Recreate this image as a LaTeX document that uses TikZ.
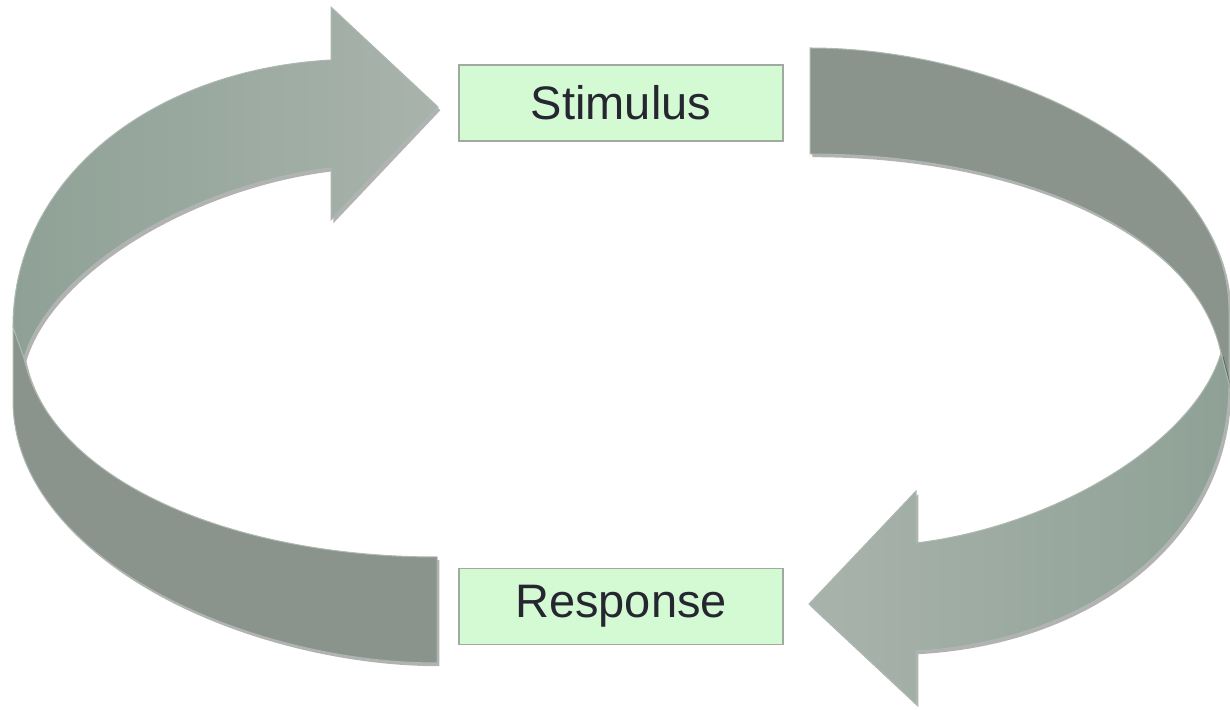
\documentclass[tikz,border=0pt]{standalone}
\usepackage{fontspec}
\setmainfont{Liberation Sans}
\usepackage{tikz}
\usetikzlibrary{positioning}
\definecolor{boxfill}{RGB}{212,250,212}
\definecolor{boxline}{RGB}{160,170,160}
\definecolor{textcol}{RGB}{38,38,48}
\definecolor{bandcol}{RGB}{138,147,140}
\definecolor{bandedge}{RGB}{172,184,176}
\definecolor{facedark}{RGB}{143,161,150}
\definecolor{facelight}{RGB}{168,179,172}
\tikzset{
	label box/.style={rectangle,draw=boxline,fill=boxfill,line width=0.75pt,minimum width=162pt,minimum height=38pt,font=\fontsize{23.5}{28}\selectfont,text=textcol},
	drop/.style={preaction={fill=black,opacity=0.3,transform canvas={xshift=1.2pt,yshift=-1.6pt}}},
	band/.style={drop,fill=bandcol,draw=bandedge,line width=0.5pt},
	face/.style={drop,draw=bandedge,line width=0.5pt}
}

\begin{document}
\begin{tikzpicture}[x=0.5pt,y=-0.5pt]
  \useasboundingbox (0,0) rectangle (1230,710);
  % left ribbon, up to the stimulus
  \draw[band] (13,327) -- (13,400) .. controls (13,560) and (250,663) .. (437,663) -- (437,557) .. controls (230,557) and (50,480) .. (24,358) -- cycle;
  \draw[face,left color=facedark,right color=facelight] (331,60) .. controls (150,70) and (13,180) .. (13,327) -- (24,358) .. controls (50,270) and (190,185) .. (331,168) -- (331,220) -- (438,107) -- (331,7) -- cycle;
  % right ribbon, down to the response
  \draw[band] (1229,384) -- (1229,311) .. controls (1229,151) and (997,48) .. (810,48) -- (810,154) .. controls (1017,154) and (1195,231) .. (1221,353) -- cycle;
  \draw[face,left color=facelight,right color=facedark] (916,651) .. controls (1097,641) and (1229,531) .. (1229,384) -- (1221,353) .. controls (1195,441) and (1057,526) .. (916,543) -- (916,491) -- (809,604) -- (916,704) -- cycle;
  % the two boxes
  \node[label box] (stim) at (621,103) {Stimulus};
  \node[label box,below=213pt of stim] (resp) {Response};
\end{tikzpicture}
\end{document}
